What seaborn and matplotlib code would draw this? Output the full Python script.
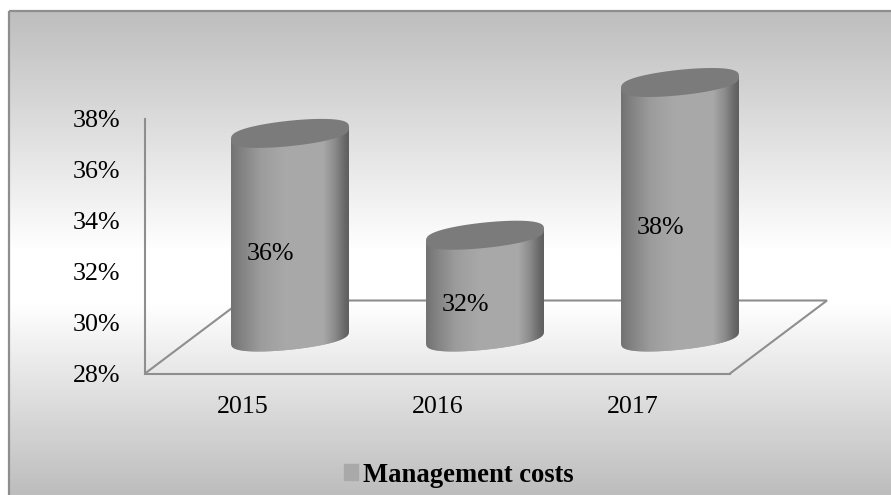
import numpy as np
import matplotlib
matplotlib.use("Agg")
import matplotlib.pyplot as plt
from matplotlib.patches import Patch, PathPatch, Rectangle
from matplotlib.path import Path
from matplotlib.colors import LinearSegmentedColormap
import pandas as pd
import seaborn as sns

years = ["2015", "2016", "2017"]
management_costs = [36, 32, 38]
y_ticks = [28, 30, 32, 34, 36, 38]
series_name = "Management costs"

W, H = 891, 495
sns.set_theme(style="white")
plt.rcParams["font.family"] = ["Liberation Serif", "DejaVu Serif"]
fig = plt.figure(figsize=(W / 100, H / 100), dpi=100, facecolor="white")

def rect(l, t, r, b):
    return [l / W, 1 - b / H, (r - l) / W, (b - t) / H]

# panel background, running off the right and bottom edges of the image
bg = fig.add_axes([0, 0, 1, 1], zorder=0)
bg.axis("off")
panel_l, panel_t, panel_r, panel_b = 9.0, 11.0, 895, 499
grey = LinearSegmentedColormap.from_list("bg", [
    (0.0, "#bebebe"), (0.49, "#ffffff"), (0.60, "#ffffff"), (1.0, "#bcbcbc")])
bg.imshow(np.linspace(0, 1, 488)[:, None], cmap=grey, aspect="auto",
          extent=(panel_l, panel_r, panel_b, panel_t), zorder=1)
bg.add_patch(Rectangle((panel_l, panel_t), panel_r - panel_l, panel_b - panel_t,
                       fill=False, ec="#8e8e8e", lw=1.6, zorder=2))
bg.set_xlim(0, W); bg.set_ylim(H, 0)

# front plane: ticks, floor
L, T, R, B = 145, 119, 730, 373.5
DX, DY = 97, 73
ax = fig.add_axes(rect(L, T, R, B), zorder=1)
ax.patch.set_alpha(0)
ax.set_xlim(-0.5, 2.5)
ax.set_ylim(28, 38)
ax.set_xticks(range(3), years)
ax.set_yticks(y_ticks, [f"{v}%" for v in y_ticks])
ax.tick_params(axis="x", length=0, pad=16.5, labelsize=18.7, colors="black")
ax.tick_params(axis="y", length=0, pad=18, labelsize=18.7, colors="black")
sns.despine(ax=ax, top=True, right=True)
for s in ("left", "bottom"):
    ax.spines[s].set_color("#8e8e8e")
    ax.spines[s].set_linewidth(1.5)
dx, dy = DX / (R - L), DY / (B - T)
ax.plot([0, dx, 1 + dx, 1], [0, dy, dy, 0], transform=ax.transAxes,
        color="#8e8e8e", lw=1.5, clip_on=False, solid_joinstyle="miter")

# bars sit half way into the depth of the floor
ax2 = fig.add_axes(rect(L + DX / 2 - 1, T - DY / 2, R + DX / 2 - 1, B - DY / 2), zorder=2)
ax2.patch.set_alpha(0)
df = pd.DataFrame({"year": years, "value": management_costs})
sns.barplot(data=df, x="year", y="value", color="#a8a8a8", width=0.605,
            saturation=1, ax=ax2, legend=False)
ax2.set_ylim(28, 38)
ax2.axis("off")

shade = LinearSegmentedColormap.from_list("cyl", [
    (0.00, "#727272"), (0.10, "#848484"), (0.25, "#9c9c9c"), (0.45, "#a8a8a8"),
    (0.78, "#a9a9a9"), (0.88, "#8c8c8c"), (0.96, "#6a6a6a"), (1.00, "#5e5e5e")])
BASE = 28
SKEW, MINOR = 0.235, 0.50   # tilt and half-height of the end ellipses, in value units
t = np.linspace(0, 2 * np.pi, 181)

def rim(ts):
    s = np.sin(ts)
    return SKEW * np.cos(ts) + MINOR * np.sign(s) * np.abs(s) ** 0.7

for bar, val in zip(list(ax2.patches), management_costs):
    x0, w = bar.get_x(), bar.get_width()
    xc, hw = x0 + w / 2, w / 2
    tl = np.linspace(np.pi, 2 * np.pi, 61)
    vx = np.r_[xc - hw, xc + hw * np.cos(tl), xc + hw, xc - hw]
    vy = np.r_[val - SKEW, BASE + rim(tl), val + SKEW, val - SKEW]
    body = Path(np.c_[vx, vy])
    bar.set_clip_box(fig.bbox)
    bar.set_clip_path(body, ax2.transData)
    im = ax2.imshow(np.linspace(0, 1, 256)[None, :], cmap=shade, aspect="auto",
                    extent=(x0, x0 + w, BASE - 1, val + 1), zorder=3)
    im.set_clip_box(fig.bbox)
    im.set_clip_path(body, ax2.transData)
    top = Path(np.c_[xc + hw * np.cos(t), val + rim(t)])
    ax2.add_patch(PathPatch(top, fc="#7b7b7b", ec="none", zorder=4, clip_on=False))
    ax2.annotate(f"{val}%", (xc, (val + BASE) / 2), xytext=(-20, -18.5),
                 textcoords="offset pixels", ha="center", va="center",
                 fontsize=18.7, color="black", zorder=5, annotation_clip=False)
ax2.set_xlim(-0.5, 2.5)
ax2.set_ylim(28, 38)

leg = fig.legend(handles=[Patch(color="#a9a9a9", label=series_name)],
                 loc="center", bbox_to_anchor=(459 / W, 1 - 475 / H), frameon=False,
                 prop={"size": 19.2, "weight": "bold"}, handlelength=0.53, handleheight=0.53,
                 handletextpad=0.2, borderpad=0, labelcolor="black")

fig.savefig("out.png", dpi=100, facecolor="white")
